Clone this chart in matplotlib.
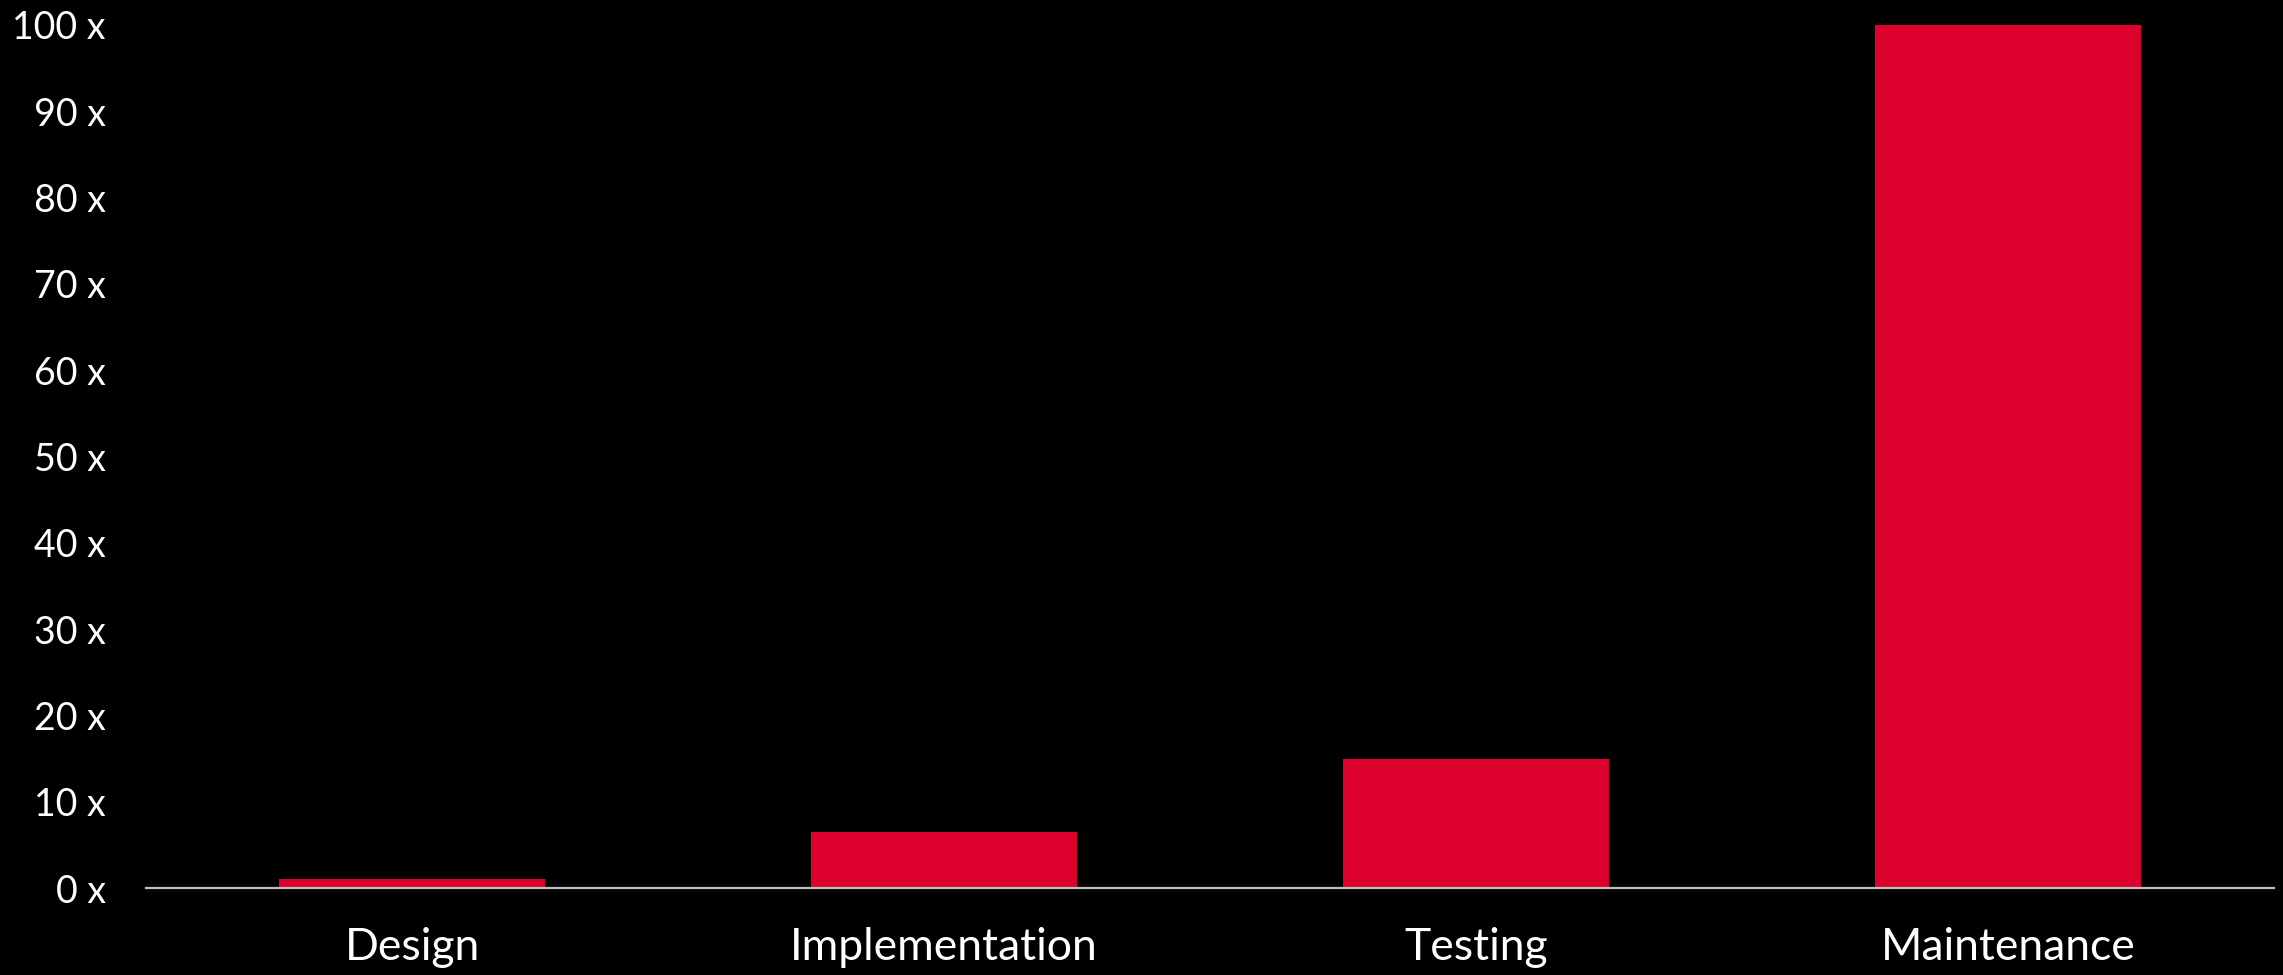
import numpy as np
import matplotlib.pyplot as plt

phases = ['Design', 'Implementation', 'Testing', 'Maintenance']
cost = [1, 6.5, 15, 100]
yticks = [0, 10, 20, 30, 40, 50, 60, 70, 80, 90, 100]

plt.rcParams['font.family'] = ['Lato', 'DejaVu Sans']

fig = plt.figure(figsize=(22.83, 9.75), dpi=100, facecolor='black')
ax = fig.add_axes([0.064, 0.0892, 0.932, 0.8852], facecolor='black')

x = np.arange(len(phases))
ax.bar(x, cost, width=0.5, color='#DC002D', zorder=2)

ax.set_xlim(-0.5, 3.5)
ax.set_ylim(0, 100)
ax.set_yticks(yticks)
ax.set_yticklabels([f'{v} x' for v in yticks])
ax.set_xticks(x)
ax.set_xticklabels(phases)

for s in ['top', 'right', 'left']:
    ax.spines[s].set_visible(False)
ax.spines['bottom'].set_color('#bfbfbf')
ax.spines['bottom'].set_linewidth(1.6)
ax.spines['bottom'].set_zorder(3)

ax.tick_params(axis='y', length=0, pad=29, labelsize=27, labelcolor='white')
ax.tick_params(axis='x', length=0, pad=28, labelsize=32, labelcolor='white')

fig.savefig('out.png', dpi=100, facecolor='black')
